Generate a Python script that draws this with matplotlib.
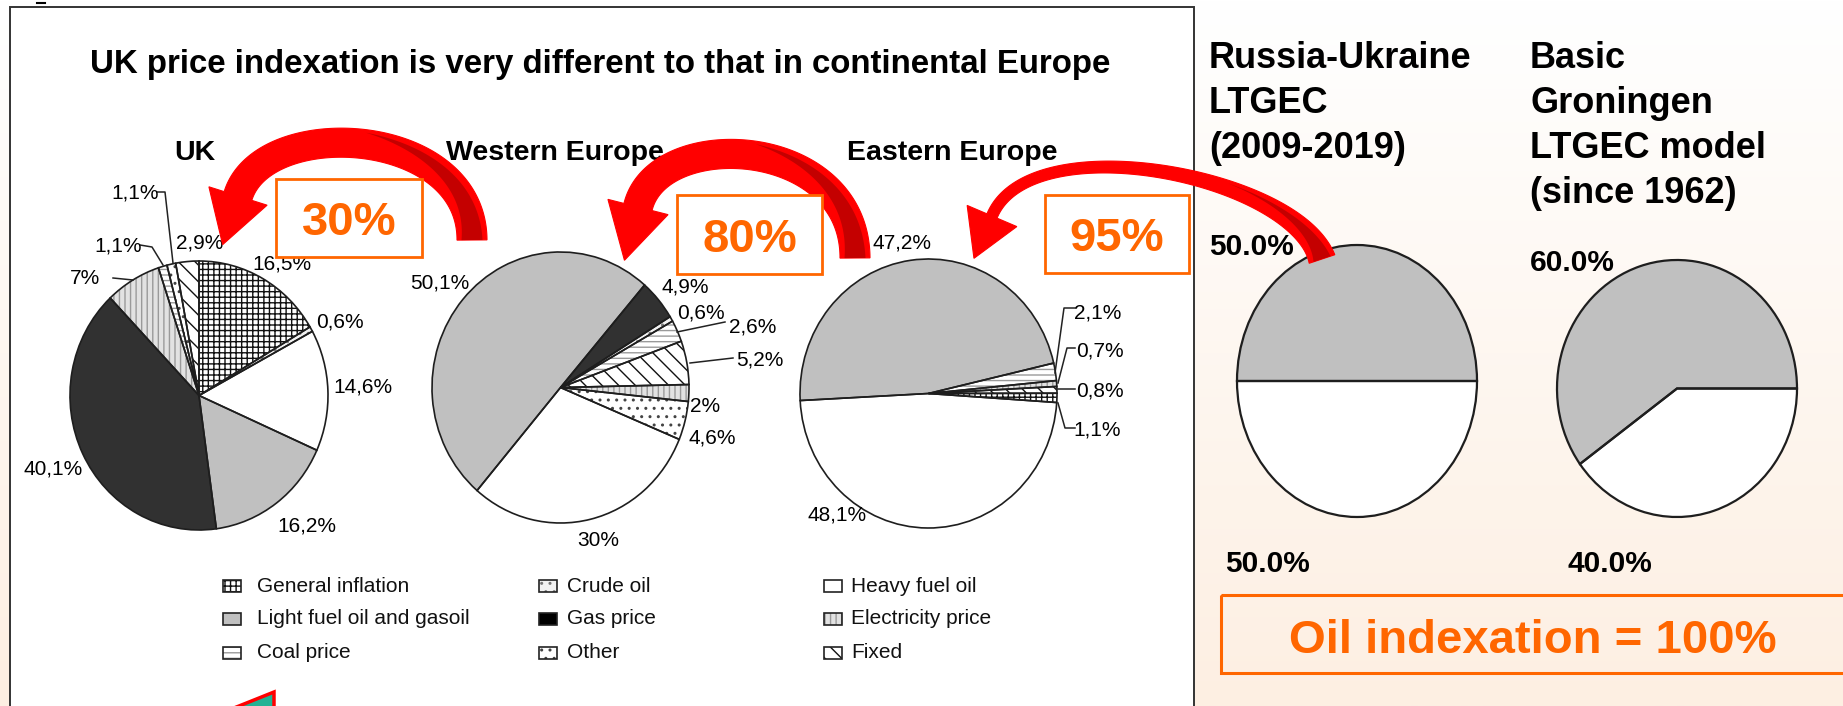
import numpy as np
import matplotlib
matplotlib.use('Agg')
import matplotlib.pyplot as plt
from matplotlib.patches import Rectangle, Polygon

plt.rcParams['font.family'] = ['Liberation Sans', 'DejaVu Sans']
plt.rcParams['hatch.linewidth'] = 1.0

W, H = 1843, 706

# ---------------- data ----------------
categories = ['General inflation', 'Light fuel oil and gasoil', 'Coal price',
              'Crude oil', 'Gas price', 'Other',
              'Heavy fuel oil', 'Electricity price', 'Fixed']

uk_cats = ['General inflation', 'Crude oil', 'Heavy fuel oil',
           'Light fuel oil and gasoil', 'Gas price', 'Electricity price',
           'Coal price', 'Other', 'Fixed']
uk_vals = [16.5, 0.6, 14.6, 16.2, 40.1, 7, 1.1, 1.1, 2.9]

we_cats = ['Light fuel oil and gasoil', 'Gas price', 'Crude oil', 'Coal price',
           'Fixed', 'Electricity price', 'Other', 'Heavy fuel oil']
we_vals = [50.1, 4.9, 0.6, 2.6, 5.2, 2, 4.6, 30]

ee_cats = ['Light fuel oil and gasoil', 'Coal price', 'Electricity price',
           'Fixed', 'General inflation', 'Heavy fuel oil']
ee_vals = [47.2, 2.1, 0.7, 0.8, 1.1, 48.1]

ru_vals = [50.0, 50.0]
gr_vals = [60.0, 40.0]

oil_shares = [30, 80, 95]

# ---------------- styles ----------------
# facecolor, hatch, hatch colour
styles = {
    'General inflation': ('white', '+++', '#111111'),
    'Light fuel oil and gasoil': ('#c0c0c0', None, '#c0c0c0'),
    'Coal price': ('white', '---', '#9a9a9a'),
    'Crude oil': ('#f2f2f2', '..', '#777777'),
    'Gas price': ('#313131', None, '#313131'),
    'Other': ('white', '..', '#444444'),
    'Heavy fuel oil': ('white', None, 'white'),
    'Electricity price': ('#e2e2e2', '|||', '#9a9a9a'),
    'Fixed': ('white', '\\\\', '#111111'),
}
legend_colors = dict(styles)
legend_colors['Gas price'] = ('black', None, 'black')


def fmt(v):
    return f"{v:.1f}".rstrip('0').rstrip('.').replace('.', ',') + '%'


fig = plt.figure(figsize=(W / 100, H / 100), dpi=100)

# background: slide gradient + white picture frame
bg = fig.add_axes([0, 0, 1, 1], zorder=0)
grad = np.linspace(0, 1, 256)[:, None, None]
top = np.array([1.0, 1.0, 1.0])
bot = np.array([253, 239, 226]) / 255
bg.imshow(top + (bot - top) * grad, extent=[0, W, H, 0], aspect='auto')
bg.add_patch(Rectangle((10, 7), 1184, 720, fc='white', ec='#333333', lw=1.4))
bg.plot([37, 45], [3, 3], color='black', lw=1.5)
bg.set_xlim(0, W)
bg.set_ylim(H, 0)
bg.axis('off')


def draw_pie(box, cats, vals, start, clockwise=True, lw=1.2):
    x0, y0, x1, y1 = box
    ax = fig.add_axes([x0 / W, 1 - y1 / H, (x1 - x0) / W, (y1 - y0) / H], zorder=1)
    fcs = [styles[c][0] for c in cats]
    wedges, _ = ax.pie(vals, colors=fcs, startangle=start, counterclock=not clockwise,
                       wedgeprops=dict(linewidth=0))
    for wdg, c in zip(wedges, cats):
        wdg.set_edgecolor(styles[c][2])
        wdg.set_hatch(styles[c][1])
    outl, _ = ax.pie(vals, colors=['none'] * len(vals), startangle=start,
                     counterclock=not clockwise,
                     wedgeprops=dict(linewidth=lw, edgecolor='#1e1e1e'))
    for p in list(wedges) + list(outl):
        p.set_clip_on(False)
    ax.set_aspect('auto')
    ax.set_xlim(-1, 1)
    ax.set_ylim(-1, 1)
    ax.axis('off')


draw_pie((70, 261, 328, 530), uk_cats, uk_vals, 90)
draw_pie((432, 252, 689, 523), we_cats, we_vals, 229.5)
draw_pie((800, 259, 1057, 528), ee_cats, ee_vals, 183)
draw_pie((1237, 245, 1477, 517), ['Light fuel oil and gasoil', 'Heavy fuel oil'],
         ru_vals, 0, clockwise=False, lw=1.6)
draw_pie((1557, 260, 1797, 517), ['Light fuel oil and gasoil', 'Heavy fuel oil'],
         gr_vals, 0, clockwise=False, lw=1.6)

# overlay for text, arrows and boxes
ov = fig.add_axes([0, 0, 1, 1], zorder=2)
ov.set_facecolor('none')
ov.set_xlim(0, W)
ov.set_ylim(H, 0)
ov.axis('off')

ov.text(600, 73, 'UK price indexation is very different to that in continental Europe',
        ha='center', va='baseline', fontsize=23.8, fontweight='bold')
for x, name in [(195, 'UK'), (555, 'Western Europe'), (952, 'Eastern Europe')]:
    ov.text(x, 160, name, ha='center', va='baseline', fontsize=20.5, fontweight='bold')

# slice labels (centre positions) and leader lines
uk_pos = {'General inflation': (282, 264), 'Crude oil': (340, 322),
          'Heavy fuel oil': (363, 387), 'Light fuel oil and gasoil': (307, 526),
          'Gas price': (53, 469), 'Electricity price': (85, 279),
          'Coal price': (118, 246), 'Other': (135, 193), 'Fixed': (200, 243)}
we_pos = {'Light fuel oil and gasoil': (440, 283), 'Gas price': (685, 287),
          'Crude oil': (701, 313), 'Coal price': (753, 327), 'Fixed': (760, 360),
          'Electricity price': (705, 407), 'Other': (712, 438),
          'Heavy fuel oil': (598, 540)}
ee_pos = {'Light fuel oil and gasoil': (902, 243), 'Coal price': (1098, 313),
          'Electricity price': (1100, 351), 'Fixed': (1100, 391),
          'General inflation': (1097, 430), 'Heavy fuel oil': (837, 515)}
leaders = [
    [(157, 192), (165, 192), (173, 263)],
    [(140, 245), (152, 247), (163, 265)],
    [(113, 278), (133, 280)],
    [(725, 322), (677, 332)],
    [(733, 358), (690, 363)],
    [(1075, 308), (1064, 308), (1055, 373)],
    [(1075, 348), (1067, 348), (1058, 383)],
    [(1075, 389), (1058, 389)],
    [(1075, 428), (1065, 428), (1058, 403)],
]
for cats, vals, pos in [(uk_cats, uk_vals, uk_pos), (we_cats, we_vals, we_pos),
                        (ee_cats, ee_vals, ee_pos)]:
    for c, v in zip(cats, vals):
        x, y = pos[c]
        ov.text(x, y, fmt(v), ha='center', va='center', fontsize=15, color='black')
for ln in leaders:
    xs, ys = zip(*ln)
    ov.plot(xs, ys, color='#222222', lw=1.1)

# legend
leg_x = [223, 539, 824]
leg_tx = [257, 567, 851]
leg_y = [586, 619, 653]
for i, c in enumerate(categories):
    col, row = divmod(i, 3)
    fc, hatch, hc = legend_colors[c]
    ov.add_patch(Rectangle((leg_x[col], leg_y[row] - 6), 18, 12, fc=fc, ec=hc,
                           hatch=hatch, lw=0))
    ov.add_patch(Rectangle((leg_x[col], leg_y[row] - 6), 18, 12, fc='none',
                           ec='#222222', lw=1.2))
    ov.text(leg_tx[col], leg_y[row], c, ha='left', va='center', fontsize=15,
            color='#111111')


# red curved arrows
def thick_arrow(ctrl, w_tail, w_head, head_w, head_l, dark_upto=0.5):
    t = np.linspace(0, 1, 240)
    P = np.array(ctrl, float)
    c = (((1 - t) ** 3)[:, None] * P[0] + (3 * (1 - t) ** 2 * t)[:, None] * P[1]
         + (3 * (1 - t) * t ** 2)[:, None] * P[2] + (t ** 3)[:, None] * P[3])
    d = np.gradient(c, axis=0)
    d /= np.linalg.norm(d, axis=1)[:, None]
    n = np.column_stack([-d[:, 1], d[:, 0]])
    w = w_head + (w_tail - w_head) * (1 - t) ** 3
    left = c + n * (w / 2)[:, None]
    right = c - n * (w / 2)[:, None]
    tip = c[-1] + d[-1] * head_l
    hl = c[-1] + n[-1] * head_w / 2
    hr = c[-1] - n[-1] * head_w / 2
    poly = np.vstack([left, hl, tip, hr, right[::-1]])
    ov.add_patch(Polygon(poly, closed=True, fc='#ff0000', ec='#ff0000', lw=0.8, zorder=5))
    m = t <= dark_upto
    frac = t[m] / dark_upto
    wd = (w[m] - 9) * (1 - frac)
    off = frac * (w[m] / 2 - 3 - wd / 2)
    inner = c[m] + n[m] * (off - wd / 2)[:, None]
    outer = c[m] + n[m] * (off + wd / 2)[:, None]
    ov.add_patch(Polygon(np.vstack([outer, inner[::-1]]), closed=True, fc='#c40000',
                         ec='none', zorder=6))


thick_arrow([(472, 240), (472, 125), (263, 114), (238, 196)], 30, 29, 61, 51)
thick_arrow([(855, 258), (855, 135), (658, 125), (638, 207)], 30, 29, 62, 55)
thick_arrow([(1322, 259), (1295, 175), (1030, 124), (992, 216)], 27, 11, 54, 46,
            dark_upto=0.35)

# orange share boxes
for (x0, y0, x1, y1), s in zip([(276, 179, 422, 257), (677, 195, 822, 274),
                                (1045, 195, 1189, 273)], oil_shares):
    ov.add_patch(Rectangle((x0, y0), x1 - x0, y1 - y0, fc='white', ec='#ff6600',
                           lw=2.0, zorder=7))
    ov.text((x0 + x1) / 2, (y0 + y1) / 2 + 17, f'{s}%', ha='center', va='baseline',
            fontsize=34, fontweight='bold', color='#ff6600', zorder=8)

# right-hand panel
for i, line in enumerate(['Russia-Ukraine', 'LTGEC', '(2009-2019)']):
    ov.text(1209, 68 + 45 * i, line, ha='left', va='baseline', fontsize=26,
            fontweight='bold')
for i, line in enumerate(['Basic', 'Groningen', 'LTGEC model', '(since 1962)']):
    ov.text(1530, 68 + 45 * i, line, ha='left', va='baseline', fontsize=26,
            fontweight='bold')
for (x, y), v in zip([(1209, 255), (1225, 572)], ru_vals):
    ov.text(x, y, f'{v:.1f}%', ha='left', va='baseline', fontsize=21.5, fontweight='bold')
for (x, y), v in zip([(1530, 271), (1567, 572)], gr_vals):
    ov.text(x, y, f'{v:.1f}%', ha='left', va='baseline', fontsize=21.5, fontweight='bold')

ov.add_patch(Rectangle((1221, 595), 700, 78, fc='none', ec='#ff6600', lw=2.2))
ov.text(1533, 653, 'Oil indexation = 100%', ha='center', va='baseline', fontsize=34,
        fontweight='bold', color='#ff6600')

# cut-off arrow tip at the bottom edge
ov.add_patch(Polygon([(234, 708), (274, 692), (274, 708)], closed=True, fc='#22b394',
                     ec='#ff0000', lw=2.5))

fig.savefig('out.png', dpi=100)
